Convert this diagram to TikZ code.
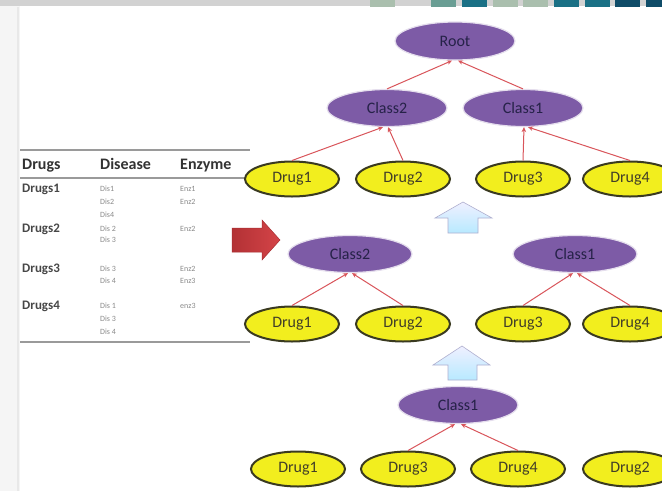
\documentclass[tikz,border=0pt]{standalone}
\usepackage{fontspec}
\setmainfont{Carlito}
\usetikzlibrary{shapes.geometric,arrows.meta}
\definecolor{purp}{HTML}{7D5BA6}
\definecolor{purptxt}{HTML}{262248}
\definecolor{yel}{HTML}{F2EE1E}
\definecolor{yelbd}{HTML}{3A3A20}
\definecolor{yeltxt}{HTML}{423E28}
\definecolor{edgered}{HTML}{D9555B}
\definecolor{hdrgray}{HTML}{333333}
\definecolor{subgray}{HTML}{8A8A8A}
\definecolor{rulegray}{HTML}{9A9A9A}
\definecolor{sage}{HTML}{AABFAE}
\definecolor{sagedk}{HTML}{6A9E94}
\definecolor{tealc}{HTML}{1A7085}
\definecolor{teald}{HTML}{0F4C68}
\definecolor{redarrow}{HTML}{D23A3E}
\tikzset{
 cls/.style={ellipse, fill=purp, draw=white!80!purp, line width=1.2pt, minimum width=120pt, minimum height=37pt, inner sep=0pt, text=purptxt, font=\fontsize{16}{16}\selectfont},
 drg/.style={ellipse, fill=yel, draw=yelbd, line width=2pt, minimum width=94pt, minimum height=35pt, inner sep=0pt, text=yeltxt, font=\fontsize{16}{16}\selectfont},
 lnk/.style={draw=edgered, line width=1pt, -{Stealth[length=5pt,width=4.5pt]}},
 hdr/.style={anchor=base west, inner sep=0pt, font=\bfseries\fontsize{16}{16}\selectfont, text=hdrgray},
 rowlab/.style={anchor=base west, inner sep=0pt, font=\bfseries\fontsize{13}{13}\selectfont, text=hdrgray!90},
 sub/.style={anchor=base west, inner sep=0pt, font=\fontsize{8}{8}\selectfont, text=subgray},
 rul/.style={draw=rulegray, line width=1.6pt},
 uparrow/.style={top color=blue!6!white, bottom color=blue!30!cyan!28!white, draw=blue!25!gray!50, line width=0.6pt},
}
\begin{document}
\begin{tikzpicture}[x=1pt,y=-1pt]
\useasboundingbox (0,0) rectangle (662,491);
\clip (0,0) rectangle (662,491);
\fill[white] (0,0) rectangle (662,491);
% frame decoration
\fill[gray!8] (0,0) rectangle (20,491);
\draw[gray!18, line width=2pt] (18,7) -- (18,491);
\fill[gray!35] (0,0) rectangle (662,6);
\foreach \x/\c in {370/sage,431/sagedk,462/tealc,493/sage,523/sage,554/tealc,585/tealc,615/teald,646/teald}
  \fill[\c] (\x,0) rectangle ++(25,6.5);
% table
\draw[rul] (20,150) -- (250,150);
\draw[rul] (20,178) -- (250,178);
\draw[rul] (20,342) -- (250,342);
\node[hdr] (h1) at (22,169) {Drugs};
\node[hdr] (h2) at (100,169) {Disease};
\node[hdr] (h3) at (180,169) {Enzyme};
\node[rowlab] (r1) at (22,192) {Drugs1};
\node[rowlab] (r2) at (22,232) {Drugs2};
\node[rowlab] (r3) at (22,272) {Drugs3};
\node[rowlab] (r4) at (22,309) {Drugs4};
\node[sub] (s1a) at (100,191) {Dis1};
\node[sub] (s1b) at (100,204) {Dis2};
\node[sub] (s1c) at (100,217) {Dis4};
\node[sub] (e1a) at (180,191) {Enz1};
\node[sub] (e1b) at (180,204) {Enz2};
\node[sub] (s2a) at (100,231) {Dis 2};
\node[sub] (s2b) at (100,242) {Dis 3};
\node[sub] (e2a) at (180,231) {Enz2};
\node[sub] (s3a) at (100,271) {Dis 3};
\node[sub] (s3b) at (100,283) {Dis 4};
\node[sub] (e3a) at (180,271) {Enz2};
\node[sub] (e3b) at (180,283) {Enz3};
\node[sub] (s4a) at (100,308) {Dis 1};
\node[sub] (s4b) at (100,321) {Dis 3};
\node[sub] (s4c) at (100,334) {Dis 4};
\node[sub] (e4a) at (180,308) {enz3};
% red arrow
\path[left color=redarrow!85!black, right color=redarrow!95!white, draw=redarrow!80!black, line width=0.5pt]
  (232,228) -- (262,228) -- (262,220) -- (280,240) -- (262,260) -- (262,252) -- (232,252) -- cycle;
% blue up arrows
\path[uparrow] (463,202) -- (492,218) -- (478,218) -- (478,233) -- (448,233) -- (448,218) -- (435,218) -- cycle;
\path[uparrow] (462,346) -- (490,365) -- (477,365) -- (477,380) -- (448,380) -- (448,365) -- (433,365) -- cycle;
% tree A
\node[cls, minimum height=38pt] (root) at (455,41) {Root};
\node[cls] (ac2) at (387,108) {Class2};
\node[cls] (ac1) at (523,108) {Class1};
\node[drg] (ad1) at (292,179) {Drug1};
\node[drg] (ad2) at (403,179) {Drug2};
\node[drg] (ad3) at (523,179) {Drug3};
\node[drg] (ad4) at (630,179) {Drug4};
\draw[lnk] (ac2.north) -- ([xshift=-3pt]root.south);
\draw[lnk] (ac1.north) -- ([xshift=3pt]root.south);
\draw[lnk] (ad1.north) -- ([xshift=-4pt]ac2.south);
\draw[lnk] (ad2.north) -- ([xshift=1pt]ac2.south);
\draw[lnk] (ad3.north) -- ([xshift=1pt]ac1.south);
\draw[lnk] (ad4.north) -- ([xshift=5pt]ac1.south);
% tree B
\node[cls, minimum width=124pt] (bc2) at (350,254) {Class2};
\node[cls, minimum width=124pt] (bc1) at (575,254) {Class1};
\node[drg] (bd1) at (292,324) {Drug1};
\node[drg] (bd2) at (403,324) {Drug2};
\node[drg] (bd3) at (523,324) {Drug3};
\node[drg] (bd4) at (630,324) {Drug4};
\draw[lnk] (bd1.north) -- ([xshift=-2pt]bc2.south);
\draw[lnk] (bd2.north) -- ([xshift=2pt]bc2.south);
\draw[lnk] (bd3.north) -- ([xshift=-2pt]bc1.south);
\draw[lnk] (bd4.north) -- ([xshift=2pt]bc1.south);
% tree C
\node[cls] (cc1) at (458,405) {Class1};
\node[drg] (cd1) at (298,469) {Drug1};
\node[drg] (cd3) at (408,469) {Drug3};
\node[drg] (cd4) at (518,469) {Drug4};
\node[drg] (cd2) at (630,469) {Drug2};
\draw[lnk] (cd3.north) -- ([xshift=-3pt]cc1.south);
\draw[lnk] (cd4.north) -- ([xshift=3pt]cc1.south);
\end{tikzpicture}
\end{document}
